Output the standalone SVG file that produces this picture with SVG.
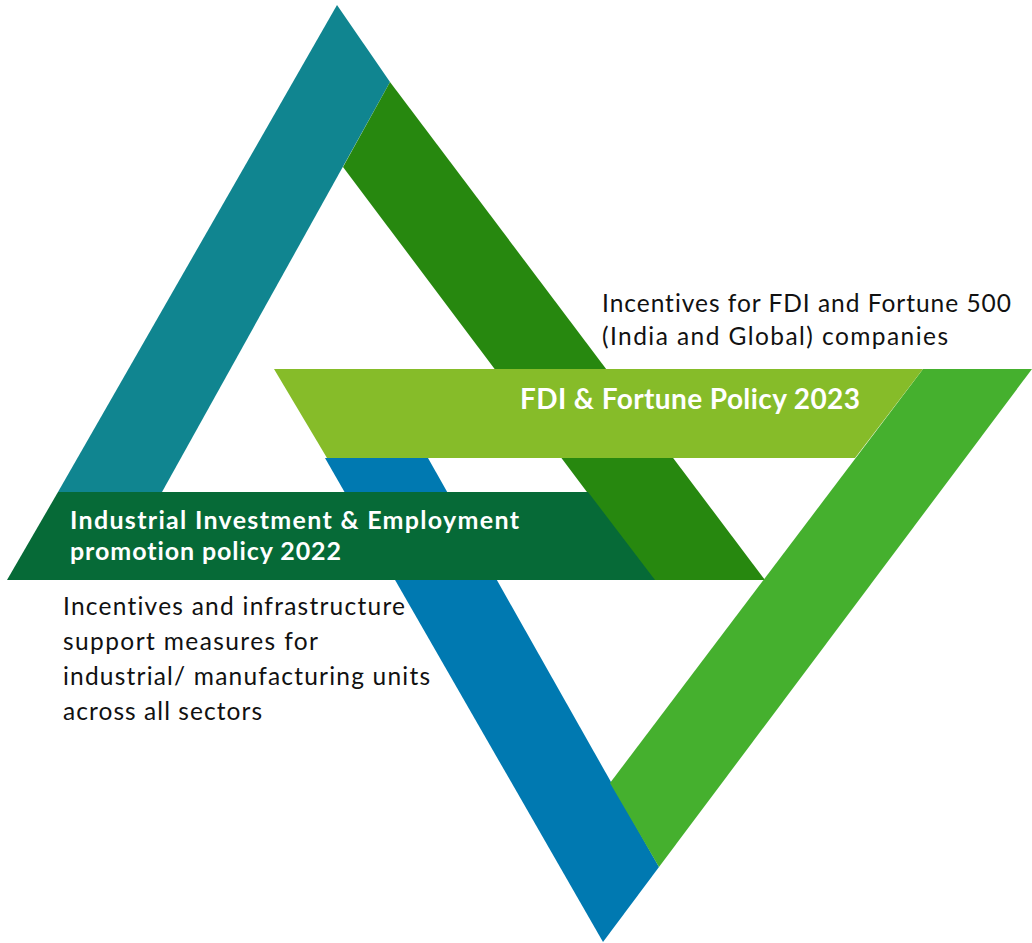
<svg xmlns="http://www.w3.org/2000/svg" width="1032" height="943" viewBox="0 0 1032 943">
<style>
.t{font-family:Lato,"Open Sans","Liberation Sans",sans-serif;fill:#111;font-size:24.5px;font-variant-ligatures:none}
.w{font-family:Lato,"Open Sans","Liberation Sans",sans-serif;fill:#fff;font-weight:bold;font-variant-ligatures:none}
</style>
<rect width="1032" height="943" fill="#fff"/>
<g id="teal-band"><polygon points="337,5 390,82 162,492 58,492" fill="#108590"/></g>
<g id="darkgreen-band"><polygon points="390,82 765,580 653,580 343,167" fill="#27880f"/></g>
<g id="blue-band"><polygon points="325,458 428,458 659,867 603,942" fill="#0079b1"/></g>
<g id="lightgreen-band"><polygon points="923,369 1032,369 659,867 610,783" fill="#45b02e"/></g>
<g id="iiep-bar">
<polygon points="58,492 588,492 655,580 7,580" fill="#066a37"/>
<text class="w" x="70" y="529" font-size="25" textLength="449">Industrial Investment &amp; Employment</text>
<text class="w" x="70" y="560" font-size="25" textLength="271">promotion policy 2022</text>
</g>
<g id="fdi-bar">
<polygon points="274,369 923,369 855,458 327,458" fill="#86bc29"/>
<text class="w" x="520" y="409" font-size="28" textLength="340">FDI &amp; Fortune Policy 2023</text>
</g>
<g id="fdi-desc">
<text class="t" x="602" y="312" textLength="409">Incentives for FDI and Fortune 500</text>
<text class="t" x="602" y="345" textLength="346">(India and Global) companies</text>
</g>
<g id="iiep-desc">
<text class="t" x="63" y="615" textLength="342">Incentives and infrastructure</text>
<text class="t" x="63" y="650" textLength="255">support measures for</text>
<text class="t" x="63" y="685" textLength="367">industrial/ manufacturing units</text>
<text class="t" x="63" y="720" textLength="199">across all sectors</text>
</g>
<g id="connectors"></g>
</svg>
